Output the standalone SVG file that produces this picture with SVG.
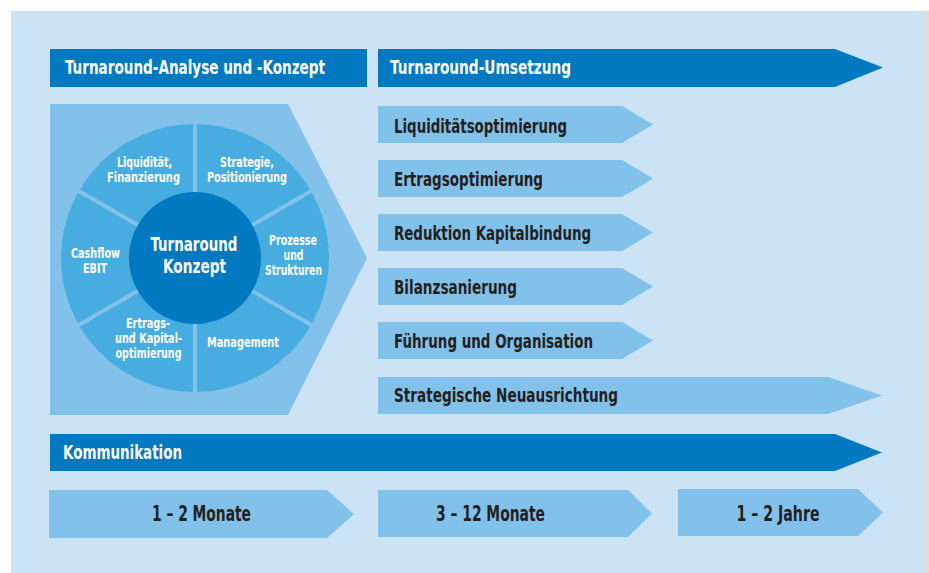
<svg xmlns="http://www.w3.org/2000/svg" width="929" height="573" viewBox="0 0 929 573">
<style>
  .bg{fill:#cce3f5}
  .dark{fill:#0079c1}
  .light{fill:#82c1ea}
  .seg{fill:#47ade1}
  .div{stroke:#82c1ea;stroke-width:4}
  text{font-family:"DejaVu Sans Condensed","Liberation Sans",sans-serif;font-weight:bold}
  .hw{fill:#ffffff;font-size:20px}
  .hd{fill:#231f20;font-size:20px}
  .cw{fill:#ffffff;font-size:14.5px;text-anchor:middle}
  .cc{fill:#ffffff;font-size:19.5px;text-anchor:middle}
  .tm{fill:#231f20;font-size:20.5px;text-anchor:middle}
</style>
<rect x="0" y="0" width="929" height="573" fill="#ffffff"/>
<rect x="924" y="11" width="5" height="562" fill="#dedede"/>
<rect class="bg" x="11" y="11" width="913" height="562"/>

<g id="analyse-header">
  <rect class="dark" x="50" y="49" width="317" height="38"/>
  <text class="hw" x="65" y="74" textLength="260" lengthAdjust="spacingAndGlyphs">Turnaround-Analyse und -Konzept</text>
</g>
<g id="umsetzung-header">
  <polygon class="dark" points="378,49 835,49 883,67.5 835,87 378,87"/>
  <text class="hw" x="390" y="74" textLength="181" lengthAdjust="spacingAndGlyphs">Turnaround-Umsetzung</text>
</g>

<g id="konzept">
  <polygon fill="#82c1ea" points="50,104 288,104 367,258 288,415 50,415"/>
  <circle class="seg" cx="195" cy="258" r="134"/>
  <g class="div">
    <line x1="195" y1="258" x2="195" y2="122"/>
    <line x1="195" y1="258" x2="313" y2="190"/>
    <line x1="195" y1="258" x2="313" y2="326"/>
    <line x1="195" y1="258" x2="195" y2="394"/>
    <line x1="195" y1="258" x2="77" y2="326"/>
    <line x1="195" y1="258" x2="77" y2="190"/>
  </g>
  <circle class="dark" cx="195" cy="258" r="66"/>
  <text class="cc" x="194" y="251" textLength="87" lengthAdjust="spacingAndGlyphs">Turnaround</text>
  <text class="cc" x="194.5" y="272.5" textLength="63" lengthAdjust="spacingAndGlyphs">Konzept</text>
  <text class="cw" x="144.5" y="167" textLength="55" lengthAdjust="spacingAndGlyphs">Liquidität,</text>
  <text class="cw" x="143.5" y="182" textLength="73" lengthAdjust="spacingAndGlyphs">Finanzierung</text>
  <text class="cw" x="247" y="167" textLength="54" lengthAdjust="spacingAndGlyphs">Strategie,</text>
  <text class="cw" x="247" y="182" textLength="80" lengthAdjust="spacingAndGlyphs">Positionierung</text>
  <text class="cw" x="293" y="245" textLength="48" lengthAdjust="spacingAndGlyphs">Prozesse</text>
  <text class="cw" x="293.5" y="260" textLength="20" lengthAdjust="spacingAndGlyphs">und</text>
  <text class="cw" x="293.5" y="275" textLength="57" lengthAdjust="spacingAndGlyphs">Strukturen</text>
  <text class="cw" x="95.5" y="258" textLength="49" lengthAdjust="spacingAndGlyphs">Cashflow</text>
  <text class="cw" x="95" y="273" textLength="24" lengthAdjust="spacingAndGlyphs">EBIT</text>
  <text class="cw" x="148" y="328" textLength="44" lengthAdjust="spacingAndGlyphs">Ertrags-</text>
  <text class="cw" x="148.5" y="343" textLength="67" lengthAdjust="spacingAndGlyphs">und Kapital-</text>
  <text class="cw" x="148.5" y="358" textLength="66" lengthAdjust="spacingAndGlyphs">optimierung</text>
  <text class="cw" x="243" y="347" textLength="72" lengthAdjust="spacingAndGlyphs">Management</text>
</g>

<g id="liquiditaet">
  <polygon class="light" points="378,106 622,106 653,124.5 622,143 378,143"/>
  <text class="hd" x="394" y="133" textLength="173" lengthAdjust="spacingAndGlyphs">Liquiditätsoptimierung</text>
</g>
<g id="ertrag">
  <polygon class="light" points="378,160 622,160 653,178.5 622,197 378,197"/>
  <text class="hd" x="394" y="186" textLength="149" lengthAdjust="spacingAndGlyphs">Ertragsoptimierung</text>
</g>
<g id="kapitalbindung">
  <polygon class="light" points="378,214 622,214 653,232.5 622,251 378,251"/>
  <text class="hd" x="394" y="240" textLength="197" lengthAdjust="spacingAndGlyphs">Reduktion Kapitalbindung</text>
</g>
<g id="bilanz">
  <polygon class="light" points="378,268 622,268 653,286.5 622,305 378,305"/>
  <text class="hd" x="394" y="294" textLength="123" lengthAdjust="spacingAndGlyphs">Bilanzsanierung</text>
</g>
<g id="fuehrung">
  <polygon class="light" points="378,322 622,322 653,340.5 622,359 378,359"/>
  <text class="hd" x="394" y="348" textLength="199" lengthAdjust="spacingAndGlyphs">Führung und Organisation</text>
</g>
<g id="strategie">
  <polygon class="light" points="378,377 828,377 882,395.5 828,414 378,414"/>
  <text class="hd" x="394" y="402" textLength="224" lengthAdjust="spacingAndGlyphs">Strategische Neuausrichtung</text>
</g>
<g id="kommunikation">
  <polygon class="dark" points="50,434 835,434 882,452.5 835,471 50,471"/>
  <text class="hw" x="63" y="459" textLength="119" lengthAdjust="spacingAndGlyphs">Kommunikation</text>
</g>

<g id="phase1">
  <polygon class="light" points="49,490 327,490 354,514 327,538 49,538"/>
  <text class="tm" x="201.5" y="521" textLength="99" lengthAdjust="spacingAndGlyphs">1 – 2 Monate</text>
</g>
<g id="phase2">
  <polygon class="light" points="378,490 628,490 652,513.5 628,537 378,537"/>
  <text class="tm" x="490.5" y="521" textLength="109" lengthAdjust="spacingAndGlyphs">3 – 12 Monate</text>
</g>
<g id="phase3">
  <polygon class="light" points="678,489 858,489 883,512.5 858,536 678,536"/>
  <text class="tm" x="778" y="521" textLength="83" lengthAdjust="spacingAndGlyphs">1 – 2 Jahre</text>
</g>
</svg>
